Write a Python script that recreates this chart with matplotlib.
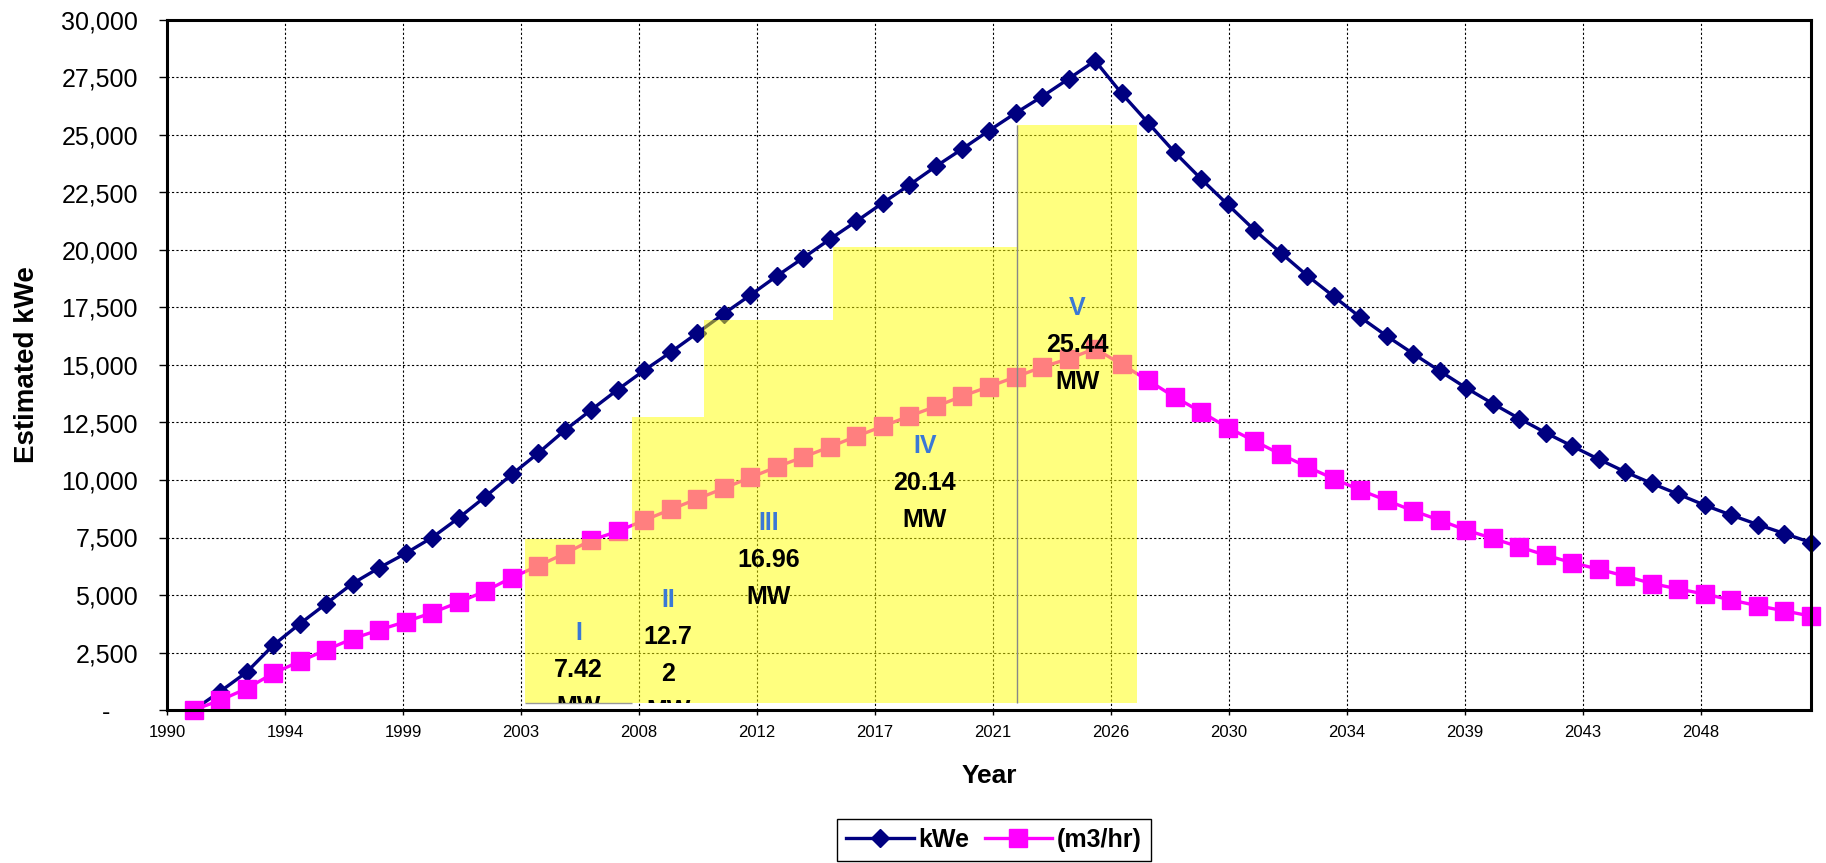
import matplotlib.pyplot as plt
from matplotlib.patches import Rectangle
from matplotlib.lines import Line2D
from matplotlib.ticker import FuncFormatter

plt.rcParams["font.family"] = ["Liberation Sans", "DejaVu Sans"]

# Yearly estimates, 1991 onwards
kwe = [0, 800, 1640, 2810, 3740, 4620, 5500, 6180, 6810, 7500,
       8350, 9270, 10240, 11170, 12160, 13050, 13930, 14770, 15560, 16390,
       17230, 18040, 18870, 19660, 20470, 21250, 22050, 22830, 23640, 24400,
       25190, 25950, 26670, 27440, 28230, 26810, 25530, 24250, 23090, 21980,
       20880, 19880, 18890, 17980, 17080, 16260, 15490, 14740, 14000, 13320,
       12670, 12050, 11470, 10900, 10350, 9850, 9380, 8900, 8470, 8060,
       7670, 7280]
flow = [0, 420, 930, 1590, 2110, 2610, 3100, 3480, 3840, 4230,
        4680, 5170, 5750, 6270, 6800, 7380, 7770, 8250, 8720, 9180,
        9640, 10110, 10570, 11000, 11440, 11900, 12340, 12780, 13200, 13650,
        14060, 14480, 14910, 15270, 15710, 15030, 14330, 13610, 12960, 12280,
        11700, 11120, 10570, 10060, 9560, 9110, 8660, 8250, 7820, 7460,
        7090, 6730, 6400, 6120, 5820, 5500, 5260, 5040, 4780, 4530,
        4310, 4080]
years = list(range(1991, 1991 + len(kwe)))

year_labels = ["1990", "1994", "1999", "2003", "2008", "2012", "2017",
               "2021", "2026", "2030", "2034", "2039", "2043", "2048"]

# Development phases (capacity in MW, span in years)
phase_names = ["I", "II", "III", "IV", "V"]
phase_mw = [7.42, 12.72, 16.96, 20.14, 25.44]
phase_start = [2003.5, 2007.55, 2010.25, 2015.1, 2022.05]
phase_end = [2007.55, 2010.25, 2015.1, 2022.05, 2026.6]

# layout of the phase captions
phase_wrap = [5, 4, 5, 5, 5]
phase_label_y = [3344, 4778, 8123, 11468, 17463]
phase_base = 300
line_step = 26.6  # points between caption lines

fig = plt.figure(figsize=(18.26, 8.63), dpi=100)
ax = fig.add_axes([167 / 1826, 153 / 863, (1811 - 167) / 1826, 690 / 863])

ax.plot(years, kwe, color="#000080", lw=2.4, marker="D", ms=9,
        mec="#000080", clip_on=False, zorder=2)
ax.plot(years, flow, color="#FF00FF", lw=2.4, marker="s", ms=13,
        mec="#FF00FF", clip_on=False, zorder=2)

for i, name in enumerate(phase_names):
    x0, x1 = phase_start[i], phase_end[i]
    top = phase_mw[i] * 1000
    rect = Rectangle((x0, phase_base), x1 - x0, top - phase_base,
                     facecolor="#FFFF00", alpha=0.5, edgecolor="none", zorder=3)
    ax.add_patch(rect)
    xc = (x0 + x1) / 2
    value = f"{phase_mw[i]:.2f}"
    w = phase_wrap[i]
    lines = [value[k:k + w] for k in range(0, len(value), w)] + ["MW"]
    ax.annotate(name, (xc, phase_label_y[i]), ha="center", va="center",
                fontsize=18, fontweight="bold", color="#3a78d6", zorder=5)
    for j, line in enumerate(lines, start=1):
        t = ax.annotate(line, (xc, phase_label_y[i]), xytext=(0, -line_step * j),
                        textcoords="offset points", ha="center", va="center",
                        fontsize=18, fontweight="bold", color="black", zorder=5)
        t.set_clip_path(rect)

# thin grey edges on the first and last phase blocks
ax.hlines(phase_base, phase_start[0], phase_end[0], color="#999999", lw=1, zorder=3)
ax.vlines(phase_start[4], phase_base, phase_mw[4] * 1000, color="#888888", lw=1, zorder=3)

ax.set_xlim(1990, 2052)
ax.set_ylim(0, 30000)
ax.set_xticks([1990 + 4.45 * k for k in range(len(year_labels))])
ax.set_xticklabels(year_labels)
ax.set_yticks(range(0, 30001, 2500))
ax.yaxis.set_major_formatter(FuncFormatter(lambda v, p: "-    " if v == 0 else f"{v:,.0f}"))

ax.grid(True, color="black", linestyle=(0, (2, 2)), linewidth=0.8)
ax.set_axisbelow(True)
for side in ["left", "right", "top", "bottom"]:
    ax.spines[side].set_linewidth(2.2)
    ax.spines[side].set_color("black")
ax.tick_params(axis="y", direction="out", length=5.8, width=1, pad=15, labelsize=18)
ax.tick_params(axis="x", direction="out", length=3.6, width=1, pad=7, labelsize=12)

fig.text(27 / 1826, 1 - 365 / 863, "Estimated kWe", rotation=90, ha="center",
         va="center", fontsize=20, fontweight="bold")
fig.text(989 / 1826, 1 - 776 / 863, "Year", ha="center", va="center",
         fontsize=19, fontweight="bold")

handles = [
    Line2D([], [], color="#000080", lw=2.4, marker="D", ms=9, mec="#000080"),
    Line2D([], [], color="#FF00FF", lw=2.4, marker="s", ms=13, mec="#FF00FF"),
]
leg = fig.legend(handles, ["kWe", "(m3/hr)"], loc="upper center",
                 bbox_to_anchor=(994 / 1826, 44 / 863), borderaxespad=0,
                 ncol=2, frameon=True, fancybox=False, edgecolor="black",
                 framealpha=1, handlelength=2.7, handletextpad=0.2,
                 columnspacing=0.6, borderpad=0.35,
                 prop={"size": 18, "weight": "bold"})
leg.get_frame().set_linewidth(1)

fig.savefig("out.png", dpi=100)
